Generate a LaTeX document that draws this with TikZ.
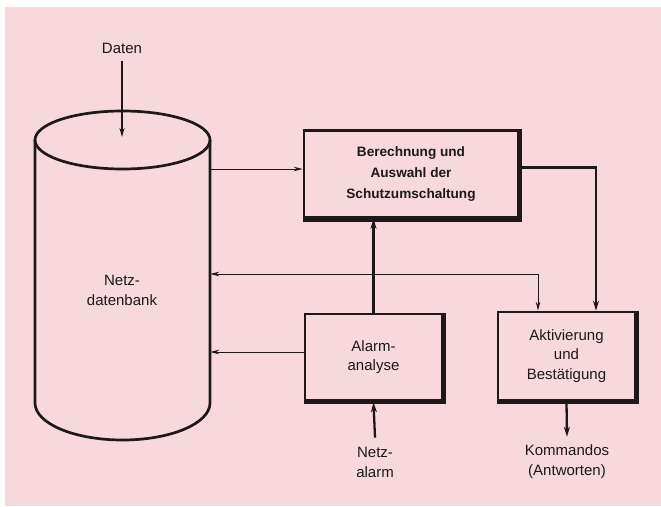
\documentclass[tikz,border=0pt]{standalone}
\usepackage{fontspec}
\setmainfont{Liberation Sans}
\usetikzlibrary{arrows.meta}
\definecolor{bgpink}{RGB}{246,216,221}
\definecolor{ink}{RGB}{30,24,26}
\tikzset{
  lbl/.style={align=center, text=ink, font=\fontsize{15}{20}\selectfont, inner sep=0pt},
  boxnode/.style={draw=ink, line width=2.6pt, align=center, text=ink, font=\fontsize{15}{19.5}\selectfont, inner sep=0pt},
  shadowline/.style={draw=ink, line width=3.2pt, line cap=rect},
  thinarr/.style={draw=ink, line width=1pt, -{Stealth[length=9pt,width=4.5pt]}},
  thickarr/.style={draw=ink, line width=2.3pt, -{Stealth[length=10pt,width=6pt]}},
  cyl/.style={draw=ink, line width=2.7pt}
}
\begin{document}
\begin{tikzpicture}[x=1pt,y=-1pt]
\useasboundingbox (0,0) rectangle (661,506);
\fill[white] (0,0) rectangle (661,506);
\fill[bgpink] (5,7) rectangle (661,506);

% cylinder (database)
\node[minimum width=175pt, minimum height=263pt, inner sep=0pt] (db) at (122.5,271.5) {};
\draw[cyl] (122.5,140) ellipse [x radius=87.5, y radius=29];
\draw[cyl] (35,140) -- (35,403) arc[start angle=180, end angle=360, x radius=87.5, y radius=-37] -- (210,140);
\node[lbl] (dbtext) at (122,290) {Netz-\\datenbank};

% Daten input
\node[lbl] (daten) at (122,48) {Daten};
\coordinate (dtop) at (122,137);
\draw[line width=1.7pt, draw=ink, -{Stealth[length=9pt,width=5pt]}] ([yshift=-8pt]daten.south) -- (dtop);

% boxes
\node[boxnode, font=\bfseries\fontsize{13.6}{21}\selectfont, minimum width=214pt, minimum height=87pt] (calc) at (411,174) {Berechnung und\\Auswahl der\\Schutzumschaltung};
\node[boxnode, minimum width=137pt, minimum height=86pt] (alarm) at (373.5,357) {Alarm-\\analyse};
\node[boxnode, minimum width=137pt, minimum height=88pt] (akt) at (566.5,356) {Aktivierung\\und\\Bestätigung};

% shadows (right and bottom edges)
\foreach \b in {calc,alarm,akt}{
  \draw[shadowline] ([xshift=1.4pt,yshift=-1.5pt]\b.north east) -- ([xshift=1.4pt,yshift=-1.4pt]\b.south east) -- ([xshift=1.5pt,yshift=-1.4pt]\b.south west);
}

% bottom labels
\node[lbl] (netzalarm) at (375,462) {Netz-\\alarm};
\node[lbl] (kom) at (567,462) {Kommandos\\(Antworten)};

% connectors
\draw[thinarr] (db.east |- 0,169) -- ([yshift=5pt]calc.west);
\draw[thickarr, -] ([yshift=6.5pt]calc.east) -| (596,290);
\draw[thickarr] (596,280) -- ([xshift=29.5pt]akt.north);
\draw[thickarr] (alarm.north) -- (alarm.north |- calc.south);
\coordinate (fb) at (538,274);
\draw[thinarr, {Stealth[length=9pt,width=4.5pt]}-{Stealth[length=9pt,width=4.5pt]}] (db.east |- fb) -- (fb) -- ([xshift=-28.5pt]akt.north);
\draw[thinarr] ([yshift=5pt]alarm.west) -- (db.east |- 0,352);
\draw[thickarr] ([yshift=9pt]netzalarm.north) -- ([yshift=-1pt]alarm.south);
\draw[thickarr] ([yshift=-1pt]akt.south) -- ([yshift=8pt]kom.north);
\end{tikzpicture}
\end{document}
